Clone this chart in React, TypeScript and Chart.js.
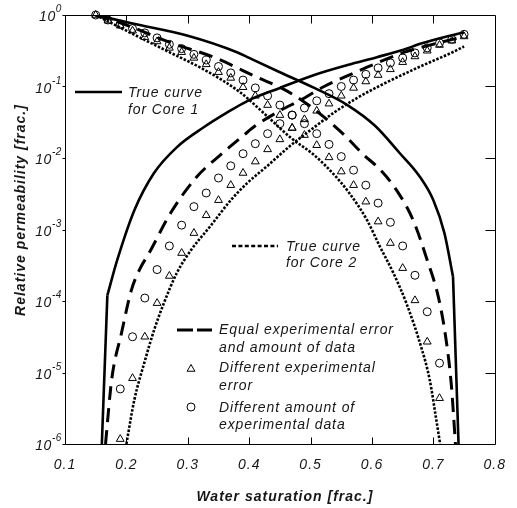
import React, { useEffect, useRef } from 'react';
import { Chart, registerables } from 'chart.js';

Chart.register(...registerables);

// ---------- axes ----------
const xTickValues = [0.1, 0.2, 0.3, 0.4, 0.5, 0.6, 0.7, 0.8];
const xTickLabels = ['0.1', '0.2', '0.3', '0.4', '0.5', '0.6', '0.7', '0.8'];
const yTickValues = [1, 1e-1, 1e-2, 1e-3, 1e-4, 1e-5, 1e-6];
const yTickExponents = ['0', '-1', '-2', '-3', '-4', '-5', '-6'];
const xTitle = 'Water saturation [frac.]';
const yTitle = 'Relative permeability [frac.]';

// ---------- true curve, Core 1 (solid) ----------
// straight tail below the kink, then the smooth part
const core1KrwTailSw = [0.16, 0.169];
const core1KrwTail = [1e-6, 1.2e-4];
const core1KrwSw = [0.169, 0.185, 0.213, 0.245, 0.282, 0.326, 0.363, 0.4, 0.45, 0.506, 0.56, 0.608, 0.65, 0.68, 0.75];
const core1Krw = [1.2e-4, 3.72e-4, 1.86e-3, 6.17e-3, 0.0141, 0.0269, 0.0427, 0.0646, 0.0955, 0.145, 0.1995, 0.257, 0.324, 0.398, 0.575];
const core1KroSw = [0.15, 0.21, 0.3, 0.38, 0.4, 0.45, 0.506, 0.56, 0.605, 0.645, 0.677, 0.7, 0.718, 0.732];
const core1Kro = [1, 0.759, 0.513, 0.302, 0.251, 0.1585, 0.0955, 0.055, 0.0282, 0.01175, 5.62e-3, 2.57e-3, 8.91e-4, 2.19e-4];
const core1KroTailSw = [0.732, 0.741];
const core1KroTail = [2.19e-4, 1e-6];

// ---------- true curve, Core 2 (dotted) ----------
const core2KrwSw = [0.2, 0.213, 0.229, 0.245, 0.261, 0.282, 0.306, 0.337, 0.37, 0.397, 0.431, 0.468, 0.506, 0.539, 0.576, 0.608, 0.676, 0.729, 0.75];
const core2Krw = [1e-6, 4.17e-6, 1.35e-5, 3.89e-5, 9.33e-5, 2.45e-4, 5.25e-4, 1.12e-3, 2.57e-3, 4.47e-3, 7.94e-3, 0.0151, 0.0269, 0.0437, 0.0692, 0.0977, 0.186, 0.295, 0.363];
const core2KroSw = [0.15, 0.2, 0.27, 0.33, 0.385, 0.431, 0.468, 0.506, 0.539, 0.563, 0.592, 0.613, 0.635, 0.656, 0.68, 0.694, 0.704, 0.711];
const core2Kro = [1, 0.603, 0.302, 0.166, 0.0832, 0.0372, 0.0191, 0.01096, 5.75e-3, 3.24e-3, 1.35e-3, 5.75e-4, 2.45e-4, 9.33e-5, 2.29e-5, 7.94e-6, 2.4e-6, 1e-6];

// ---------- equal experimental error and amount of data (dashed) ----------
const equalKrwSw = [0.166, 0.176, 0.192, 0.208, 0.222, 0.237, 0.272, 0.314, 0.358, 0.39, 0.41, 0.452, 0.484, 0.522, 0.555, 0.592, 0.653, 0.708, 0.75];
const equalKrw = [1e-6, 7.94e-6, 3.55e-5, 1.41e-4, 2.82e-4, 4.68e-4, 1.7e-3, 5.37e-3, 0.012, 0.0204, 0.0282, 0.0468, 0.0646, 0.1, 0.135, 0.186, 0.302, 0.407, 0.501];
const equalKroSw = [0.15, 0.2, 0.27, 0.345, 0.415, 0.452, 0.482, 0.522, 0.555, 0.587, 0.613, 0.64, 0.667, 0.69, 0.708, 0.72, 0.729, 0.736];
const equalKro = [1, 0.724, 0.417, 0.251, 0.132, 0.0955, 0.0676, 0.0372, 0.0209, 0.01096, 6.92e-3, 3.55e-3, 1.35e-3, 3.72e-4, 1.15e-4, 3.16e-5, 7.08e-6, 1e-6];

// ---------- markers ----------
const krwMarkerSw = [0.19, 0.21, 0.23, 0.25, 0.27, 0.29, 0.31, 0.33, 0.35, 0.37, 0.39, 0.41, 0.43, 0.45, 0.47, 0.49, 0.51, 0.53, 0.55, 0.57, 0.59, 0.61, 0.63, 0.65, 0.67, 0.69, 0.71, 0.73, 0.75];
const kroMarkerSw = [0.15, 0.17, 0.19, 0.21, 0.23, 0.25, 0.27, 0.29, 0.31, 0.33, 0.35, 0.37, 0.39, 0.41, 0.43, 0.45, 0.47, 0.49, 0.51, 0.53, 0.55, 0.57, 0.59, 0.61, 0.63, 0.65, 0.67, 0.69, 0.71];

// Different experimental error (triangles)
const errorKrw = [1.17e-6, 8.32e-6, 3.16e-5, 9.33e-5, 2.24e-4, 4.68e-4, 8.91e-4, 1.58e-3, 2.57e-3, 4.17e-3, 6.17e-3, 8.91e-3, 0.0132, 0.0182, 0.0263, 0.0347, 0.0457, 0.0575, 0.0741, 0.0955, 0.1175, 0.1445, 0.1738, 0.2188, 0.263, 0.3162, 0.38, 0.4365, 0.501];
const errorKro = [1, 0.8318, 0.7079, 0.6026, 0.4898, 0.4266, 0.3467, 0.302, 0.2512, 0.2042, 0.1585, 0.1318, 0.0977, 0.0741, 0.055, 0.0398, 0.0263, 0.0209, 0.0151, 0.0102, 6.46e-3, 4.17e-3, 2.45e-3, 1.29e-3, 6.46e-4, 2.88e-4, 1.02e-4, 2.69e-5, 4.37e-6];

// Different amount of experimental data (circles)
const amountKrw = [5.89e-6, 3.16e-5, 1.1e-4, 2.75e-4, 5.89e-4, 1.15e-3, 2.09e-3, 3.24e-3, 5.25e-3, 7.76e-3, 0.01148, 0.01585, 0.02188, 0.0302, 0.0398, 0.0501, 0.0631, 0.0794, 0.1, 0.123, 0.148, 0.182, 0.214, 0.251, 0.295, 0.347, 0.407, 0.457, 0.537];
const amountKro = [1, 0.8511, 0.7413, 0.6457, 0.5623, 0.4786, 0.389, 0.3388, 0.2818, 0.2344, 0.1905, 0.1549, 0.123, 0.0955, 0.0741, 0.055, 0.0398, 0.0302, 0.0219, 0.0155, 0.01047, 6.76e-3, 4.17e-3, 2.34e-3, 1.26e-3, 5.89e-4, 2.29e-4, 7.08e-5, 1.35e-5];

// ---------- legend text ----------
const legendCore1 = ['True curve', 'for Core 1'];
const legendCore2 = ['True curve', 'for Core 2'];
const legendEqual = ['Equal experimental error', 'and amount of data'];
const legendError = ['Different experimental', 'error'];
const legendAmount = ['Different amount of', 'experimental data'];

const FAMILY = '"Liberation Sans", Arial, Helvetica, sans-serif';
const INK = '#161616';
const DOTTED = [2.5, 1.6];
const DASHED = [14, 8];

const pts = (xs: number[], ys: number[]) => xs.map((x, i) => ({ x, y: ys[i] }));

const lineDs = (data: any[], dash: number[], width: number, smooth = true) => ({
  data,
  showLine: true,
  borderColor: '#000',
  borderWidth: width,
  borderDash: dash,
  borderCapStyle: 'butt',
  borderJoinStyle: 'round',
  pointRadius: 0,
  fill: false,
  tension: 0,
  cubicInterpolationMode: smooth ? 'monotone' : 'default',
});

const markerDs = (data: any[], style: string, radius: number) => ({
  data,
  showLine: false,
  pointStyle: style,
  pointRadius: radius,
  pointBorderWidth: 1,
  pointBorderColor: '#000',
  pointBackgroundColor: 'rgba(0,0,0,0)',
  clip: false,
});

const decorPlugin = {
  id: 'decor',
  beforeDraw(chart: any) {
    chart.ctx.letterSpacing = '1px';
  },
  afterDraw(chart: any) {
    const { ctx, chartArea: a, scales } = chart;
    const xs = scales.x;
    const ys = scales.y;
    ctx.save();
    ctx.setLineDash([]);
    ctx.strokeStyle = '#000';
    ctx.lineWidth = 1;
    const L = Math.round(a.left) + 0.5;
    const R = Math.round(a.right) + 0.5;
    const T = Math.round(a.top) + 0.5;
    const B = Math.round(a.bottom) + 0.5;
    ctx.beginPath();
    ctx.moveTo(L, T); ctx.lineTo(R, T); ctx.lineTo(R, B); ctx.lineTo(L, B); ctx.closePath();
    xTickValues.forEach((v) => {
      const px = Math.round(xs.getPixelForValue(v)) + 0.5;
      if (px <= L + 1 || px >= R - 1) return;
      ctx.moveTo(px, B); ctx.lineTo(px, B - 7);
      ctx.moveTo(px, T); ctx.lineTo(px, T + 8);
    });
    yTickValues.forEach((v) => {
      const py = Math.round(ys.getPixelForValue(v)) + 0.5;
      ctx.moveTo(L - 3, py); ctx.lineTo(L, py);
      if (py <= T + 1 || py >= B - 1) return;
      ctx.moveTo(R, py); ctx.lineTo(R - 10, py);
    });
    ctx.stroke();

    // y tick labels with superscript exponents
    ctx.fillStyle = INK;
    ctx.letterSpacing = '0.6px';
    ctx.textAlign = 'right';
    ctx.textBaseline = 'middle';
    yTickValues.forEach((v, i) => {
      const py = ys.getPixelForValue(v);
      const e = yTickExponents[i];
      ctx.font = `italic 10px ${FAMILY}`;
      const we = ctx.measureText(e).width;
      ctx.fillText(e, 62, py - 5.5);
      ctx.font = `italic 14px ${FAMILY}`;
      ctx.fillText('10', 62 - we, py + 2.5);
    });

    // axis titles
    ctx.font = `bold italic 14px ${FAMILY}`;
    ctx.letterSpacing = '1px';
    ctx.textAlign = 'center';
    ctx.fillText(xTitle, (a.left + a.right) / 2 + 5, a.bottom + 53);
    ctx.save();
    ctx.translate(21, 210);
    ctx.rotate(-Math.PI / 2);
    ctx.fillText(yTitle, 0, 0);
    ctx.restore();

    // legend
    const seg = (x1: number, x2: number, y: number, dash: number[], w: number) => {
      ctx.save();
      ctx.beginPath();
      ctx.setLineDash(dash);
      ctx.lineWidth = w;
      ctx.lineCap = 'butt';
      ctx.moveTo(x1, y); ctx.lineTo(x2, y);
      ctx.stroke();
      ctx.restore();
    };
    seg(75, 122, 92, [], 2.6);
    seg(232, 278, 246, [4, 2.4], 2.6);
    seg(177, 212, 330, [16, 4], 3);
    ctx.beginPath();
    const tr = 4.5, tx = 191, ty = 369;
    ctx.moveTo(tx, ty - tr);
    ctx.lineTo(tx + tr * 0.866, ty + tr * 0.5);
    ctx.lineTo(tx - tr * 0.866, ty + tr * 0.5);
    ctx.closePath();
    ctx.lineWidth = 1;
    ctx.stroke();
    ctx.beginPath();
    ctx.arc(191, 407, 4, 0, Math.PI * 2);
    ctx.stroke();

    ctx.font = `italic 14px ${FAMILY}`;
    ctx.letterSpacing = '0.9px';
    ctx.textAlign = 'left';
    ctx.textBaseline = 'middle';
    const txt = (lines: string[], x: number, y1: number, y2: number) => {
      ctx.fillText(lines[0], x, y1);
      ctx.fillText(lines[1], x, y2);
    };
    txt(legendCore1, 128, 93, 110);
    txt(legendCore2, 286, 247, 263);
    txt(legendEqual, 219, 330, 348);
    txt(legendError, 219, 368, 386);
    txt(legendAmount, 219, 408, 425);
    ctx.restore();
    ctx.letterSpacing = '0px';
  },
};

export default function App() {
  const ref = useRef<HTMLCanvasElement>(null);
  useEffect(() => {
    if (!ref.current) return;
    const chart = new Chart(ref.current, {
      type: 'scatter',
      data: {
        datasets: [
          markerDs(pts(krwMarkerSw, errorKrw), 'triangle', 4.5),
          markerDs(pts(kroMarkerSw, errorKro), 'triangle', 4.5),
          markerDs(pts(krwMarkerSw, amountKrw), 'circle', 4),
          markerDs(pts(kroMarkerSw, amountKro), 'circle', 4),
          lineDs(pts(core1KrwTailSw, core1KrwTail), [], 2.6, false),
          lineDs(pts(core1KrwSw, core1Krw), [], 2.6),
          lineDs(pts(core1KroSw, core1Kro), [], 2.6),
          lineDs(pts(core1KroTailSw, core1KroTail), [], 2.6, false),
          lineDs(pts(equalKrwSw, equalKrw), DASHED, 3),
          lineDs(pts(equalKroSw, equalKro), DASHED, 3),
          lineDs(pts(core2KrwSw, core2Krw), DOTTED, 2.6),
          lineDs(pts(core2KroSw, core2Kro), DOTTED, 2.6),
        ] as any,
      },
      options: {
        animation: false,
        responsive: false,
        devicePixelRatio: 1,
        events: [],
        layout: { padding: { left: 0, top: 15, right: 17, bottom: 0 } },
        plugins: { legend: { display: false }, tooltip: { enabled: false }, title: { display: false } },
        scales: {
          x: {
            type: 'linear',
            min: 0.1,
            max: 0.8,
            afterFit: (s: any) => { s.height = 64; },
            afterBuildTicks: (s: any) => { s.ticks = xTickValues.map((value) => ({ value })); },
            grid: { display: false, drawTicks: false },
            border: { display: false },
            ticks: {
              autoSkip: false,
              maxRotation: 0,
              padding: 12.5,
              color: INK,
              font: { family: FAMILY, size: 14, style: 'italic' },
              callback: (_v: any, i: number) => xTickLabels[i],
            },
          },
          y: {
            type: 'logarithmic',
            min: 1e-6,
            max: 1,
            afterFit: (s: any) => { s.width = 65; },
            grid: { display: false, drawTicks: false },
            border: { display: false },
            ticks: { display: false },
          },
        },
      } as any,
      plugins: [decorPlugin],
    });
    return () => chart.destroy();
  }, []);
  return (
    <div style={{ position: 'fixed', left: 0, top: 0, width: 517, height: 508, background: '#fff' }}>
      <canvas ref={ref} width={517} height={508} style={{ display: 'block', width: 517, height: 508 }} />
    </div>
  );
}
